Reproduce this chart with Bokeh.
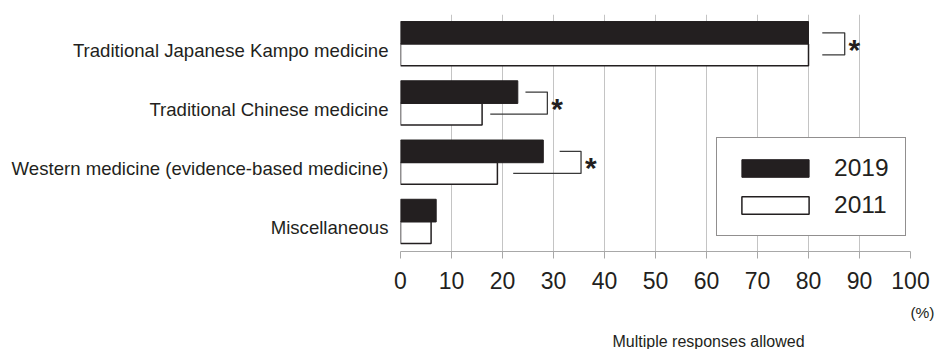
from bokeh.plotting import figure
from bokeh.models import (Range1d, FixedTicker, Legend, LegendItem, Title)
from bokeh.core.properties import value
from bokeh.embed import file_html
from bokeh.resources import INLINE

# ---- data ----
categories = ["Traditional Japanese Kampo medicine",
              "Traditional Chinese medicine",
              "Western medicine (evidence-based medicine)",
              "Miscellaneous"]
values_2019 = [80, 23, 28, 7]
values_2011 = [80, 16, 19, 6]
x_ticks = [0, 10, 20, 30, 40, 50, 60, 70, 80, 90, 100]
x_tick_labels = ["0", "10", "20", "30", "40", "50", "60", "70", "80", "90", "100"]

# significance brackets (in % units), one per significant category
sig_index = [0, 1, 2]
sig_top_start = [82.7, 24.5, 31.2]
sig_bottom_start = [82.7, 17.6, 22.1]
sig_bracket_x = [87.1, 28.8, 35.4]
sig_star_x = [89.0, 30.7, 37.3]

INK = "#231f20"
GRID = "#c4c4c4"
FONT = "Liberation Sans"

n = len(categories)
idx = list(range(n))
y_2019 = [i - 0.19 for i in idx]
y_2011 = [i + 0.183 for i in idx]

p = figure(width=935, height=349, output_backend="svg", toolbar_location=None,
           x_range=Range1d(0, 100), y_range=Range1d(n - 0.5, -0.5),
           min_border_left=400, min_border_right=25, min_border_top=14, min_border_bottom=95)
p.outline_line_color = None
p.background_fill_color = "white"
p.border_fill_color = "white"

r19 = p.hbar(y=y_2019, right=values_2019, left=0, height=0.383,
             fill_color=INK, line_color=INK, line_width=1)
r11 = p.hbar(y=y_2011, right=values_2011, left=0, height=0.367,
             fill_color="white", line_color=INK, line_width=1.5)

# brackets
xs, ys = [], []
for k, i in enumerate(sig_index):
    xs.append([sig_top_start[k], sig_bracket_x[k], sig_bracket_x[k], sig_bottom_start[k]])
    ys.append([y_2019[i], y_2019[i], y_2011[i], y_2011[i]])
p.multi_line(xs=xs, ys=ys, line_color="#3a3a3a", line_width=1.3)
p.text(x=sig_star_x, y=list(sig_index), text=["*"] * len(sig_index),
       text_font=value(FONT), text_font_style="bold", text_font_size="30px",
       text_color=INK, text_align="center", text_baseline="alphabetic", y_offset=5)

# x axis
p.xaxis.ticker = FixedTicker(ticks=x_ticks)
p.xaxis.major_label_overrides = {t: l for t, l in zip(x_ticks, x_tick_labels)}
p.xaxis.axis_line_color = "#a8a8a8"
p.xaxis.major_tick_line_color = "#a8a8a8"
p.xaxis.major_tick_out = 7
p.xaxis.major_tick_in = 0
p.xaxis.minor_tick_line_color = None
p.xaxis.major_label_text_font = FONT
p.xaxis.major_label_text_font_size = "23px"
p.xaxis.major_label_text_color = INK
p.xaxis.major_label_standoff = 13

# y axis (category labels)
p.yaxis.ticker = FixedTicker(ticks=[i + 0.1 for i in idx])
p.yaxis.major_label_overrides = {i + 0.1: c for i, c in zip(idx, categories)}
p.yaxis.axis_line_color = None
p.yaxis.major_tick_line_color = None
p.yaxis.minor_tick_line_color = None
p.yaxis.major_tick_out = 0
p.yaxis.major_label_standoff = 12
p.yaxis.major_label_text_font = FONT
p.yaxis.major_label_text_font_size = "18.6px"
p.yaxis.major_label_text_color = INK

p.xgrid.ticker = FixedTicker(ticks=x_ticks)
p.xgrid.grid_line_color = GRID
p.xgrid.grid_line_width = 1
p.ygrid.grid_line_color = None

legend = Legend(items=[LegendItem(label="2019", renderers=[r19]),
                       LegendItem(label="2011", renderers=[r11])],
                location=(316, 15), orientation="vertical",
                glyph_width=84, glyph_height=22, label_height=22, label_standoff=17,
                spacing=9, padding=16, margin=0,
                label_text_font=FONT, label_text_font_size="24.5px", label_text_color=INK,
                border_line_color=INK, border_line_width=1, background_fill_color="white",
                background_fill_alpha=1)
p.add_layout(legend)

p.add_layout(Title(text="(%)", align="right", offset=-24, standoff=20,
                   text_font=FONT, text_font_size="15.5px", text_color=INK,
                   text_font_style="normal"), "below")
p.add_layout(Title(text="Multiple responses allowed", align="left", offset=212, standoff=0,
                   text_font=FONT, text_font_size="16px", text_color=INK,
                   text_font_style="normal"), "below")

open("out.html", "w").write(file_html(p, INLINE))
